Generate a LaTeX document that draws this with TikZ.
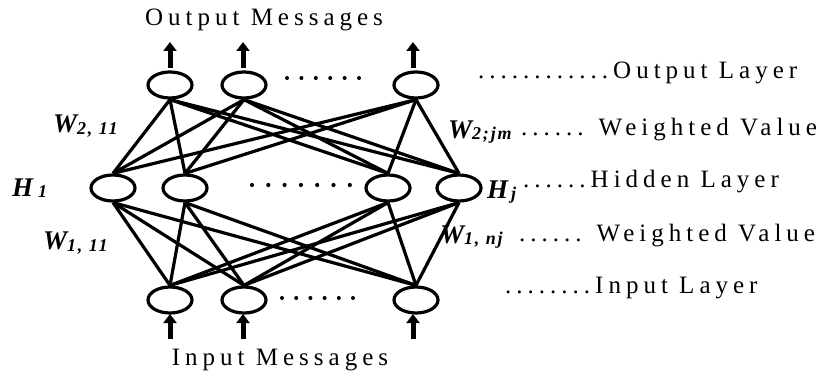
\documentclass[tikz,border=0pt]{standalone}
\usepackage{fontspec}
\setmainfont{Liberation Serif}
\newfontfamily\spaced[LetterSpace=20]{Liberation Serif}
\newfontfamily\subspaced[LetterSpace=10]{Liberation Serif}
\usetikzlibrary{shapes.geometric,arrows.meta}

\newcommand{\wlab}[2]{{\bfseries\itshape #1\raisebox{-1.5pt}{\subspaced\bfseries\itshape\fontsize{18}{18}\selectfont #2}}}

\tikzset{
  neuron/.style={draw, ellipse, line width=3.2pt, minimum width=44pt, minimum height=26pt, inner sep=0pt, fill=white},
  link/.style={line width=3.2pt},
  flow/.style={line width=5pt, -{Triangle[width=13pt,length=9pt]}},
  caption/.style={font=\spaced\fontsize{25}{27}\selectfont, inner sep=0pt},
  wlabel/.style={font=\fontsize{27}{28}\selectfont, inner sep=0pt, anchor=west},
  dotrow/.style={fill=black}
}

\begin{document}
\begin{tikzpicture}[x=1pt,y=-1pt]
  \useasboundingbox (0,0) rectangle (824,374);

  % neurons
  \node[neuron] (o1) at (170,85) {};
  \node[neuron] (o2) at (244,85) {};
  \node[neuron] (o3) at (416,85) {};
  \node[neuron] (h1) at (113,188) {};
  \node[neuron] (h2) at (185,188) {};
  \node[neuron] (h3) at (388,188) {};
  \node[neuron] (h4) at (459,188) {};
  \node[neuron] (i1) at (170,300) {};
  \node[neuron] (i2) at (244,300) {};
  \node[neuron] (i3) at (416,300) {};

  % fully connected weights
  \foreach \h in {h1,h2,h3,h4}{
    \foreach \o in {o1,o2,o3}{ \draw[link] (\h.north) -- (\o.south); }
    \foreach \i in {i1,i2,i3}{ \draw[link] (\i.north) -- (\h.south); }
  }

  % output and input arrows
  \foreach \n/\x in {o1/170,o2/243,o3/413}{
    \coordinate (\n-out) at (\x,42);
    \draw[flow] (\x,68) -- (\n-out);
  }
  \foreach \n/\x in {i1/170,i2/243,i3/413}{
    \coordinate (\n-in) at (\x,339);
    \draw[flow] (\n-in) -- (\x,314);
  }

  % ellipsis dots between neurons
  \foreach \k in {0,...,5}{ \fill[dotrow] (287+14.4*\k,78) circle (2); }
  \foreach \k in {0,...,6}{ \fill[dotrow] (252+16.3*\k,185) circle (2.1); }
  \foreach \k in {0,...,5}{ \fill[dotrow] (282+14.2*\k,298) circle (2); }

  % captions
  \node[caption] (tout) at (264,20) {Output Messages};
  \node[caption] (tin) at (280,360) {Input Messages};
  \node[caption, anchor=west] (lout) at (478,73) {............Output Layer};
  \node[caption, anchor=west] (lw2) at (521,130) {...... Weighted Value};
  \node[caption, anchor=west] (lhid) at (523,182) {......Hidden Layer};
  \node[caption, anchor=west] (lw1) at (519,236) {...... Weighted Value};
  \node[caption, anchor=west] (lin) at (505,288) {........Input Layer};

  % weight and neuron labels
  \node[wlabel] (w211) at (53,126) {\wlab{W}{2, 11}};
  \node[wlabel] (hone) at (12,188) {\wlab{H}{\hspace{5pt}1}};
  \node[wlabel] (w111) at (43,243) {\wlab{W}{1, 11}};
  \node[wlabel] (w2jm) at (448,132) {\wlab{W}{2;jm}};
  \node[wlabel] (hj) at (487,192) {\wlab{H}{\hspace{3pt}j}};
  \node[wlabel] (w1nj) at (440,237) {\wlab{W}{1, nj}};
\end{tikzpicture}
\end{document}
